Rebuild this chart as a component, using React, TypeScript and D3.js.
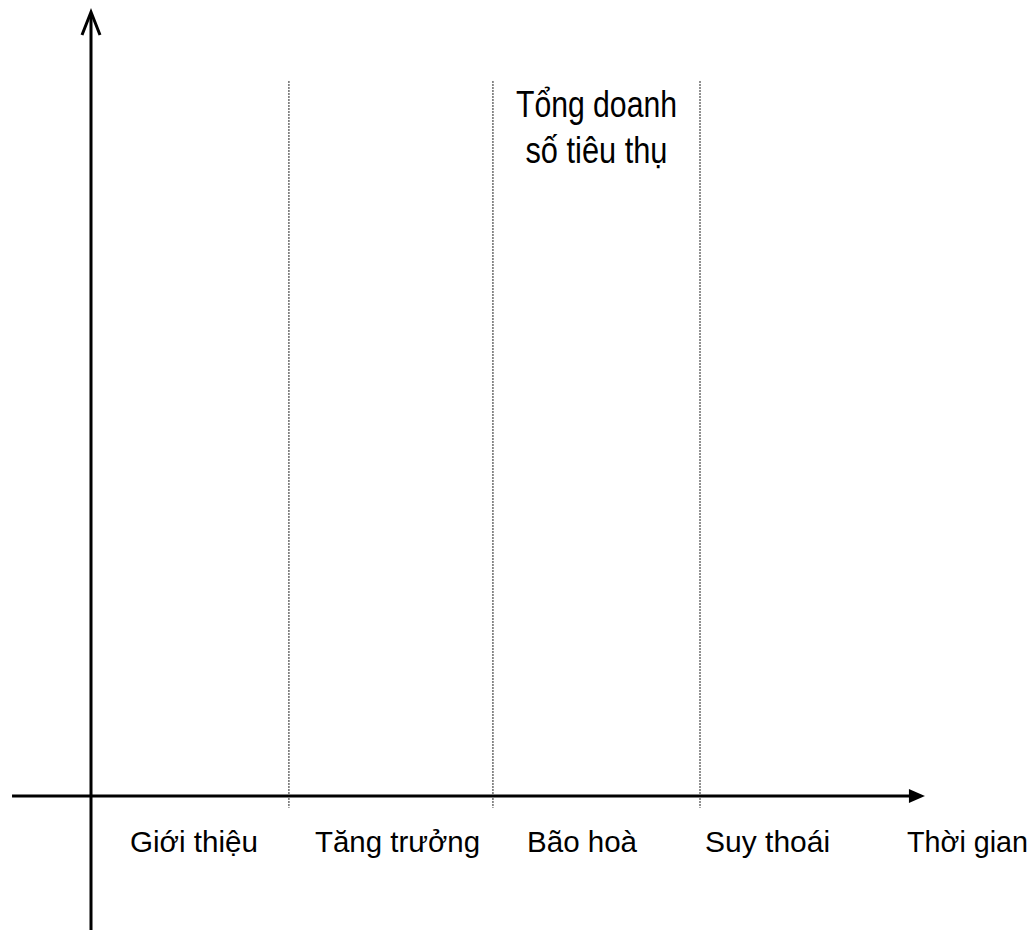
import React from "react";
import * as d3 from "d3";

// Stage labels along the time axis
const stages = ["Giới thiệu", "Tăng trưởng", "Bão hoà", "Suy thoái"];
const stagePos = [0.507, 1.51, 2.419, 3.333];
const stageLengths = [128, 165, 110, 125];
const xAxisLabel = "Thời gian";
const xAxisLabelPos = 4.318;
const xAxisLabelLength = 121;
// Stage boundaries (time units)
const boundaries = [0.975, 1.98, 3.0];
// Annotation
const noteLines = ["Tổng doanh", "số tiêu thụ"];
const notePos = 2.49;
const noteLevels = [0.866, 0.807];
const noteLengths = [161, 142];

const W = 1034;
const H = 936;

export default function App() {
  const x = d3.scaleLinear().domain([0, 3]).range([91, 700]);
  const y = d3.scaleLinear().domain([0, 1]).range([796, 12]);

  const xMin = x(-0.389);
  const xMax = x(4.108);
  const yTop = y(1);
  const yBottom = y(-0.171);
  const y0 = y(0);
  const x0 = x(0);

  const font = "'Liberation Sans', Arial, Helvetica, sans-serif";

  const labels = [
    ...stages.map((s, i) => ({ text: s, pos: stagePos[i], len: stageLengths[i] })),
    { text: xAxisLabel, pos: xAxisLabelPos, len: xAxisLabelLength },
  ];

  return (
    <div style={{ position: "absolute", left: 0, top: 0 }}>
      <svg width={W} height={H} style={{ display: "block", background: "#fff" }}>
        <rect width={W} height={H} fill="#fff" />
        {/* dotted stage boundaries */}
        {boundaries.map((b, i) => (
          <line
            key={i}
            x1={x(b)}
            x2={x(b)}
            y1={y(0.912)}
            y2={y(-0.015)}
            stroke="#222"
            strokeWidth={1}
            strokeDasharray="2,1"
          />
        ))}
        {/* x axis */}
        <line x1={xMin} x2={xMax - 12} y1={y0} y2={y0} stroke="#000" strokeWidth={3} />
        <path
          d={`M${xMax},${y0} L${xMax - 16},${y0 - 7} L${xMax - 16},${y0 + 7} Z`}
          fill="#000"
        />
        {/* y axis */}
        <line x1={x0} x2={x0} y1={yTop + 1} y2={yBottom} stroke="#000" strokeWidth={3} />
        <path
          d={`M${x0 - 9},${yTop + 23} L${x0},${yTop} L${x0 + 9},${yTop + 23}`}
          fill="none"
          stroke="#000"
          strokeWidth={3}
        />
        {/* stage labels + axis label */}
        {labels.map((l) => (
          <text
            key={l.text}
            x={x(l.pos) - l.len / 2}
            y={y(-0.071)}
            fontFamily={font}
            fontSize={30}
            textLength={l.len}
            lengthAdjust="spacingAndGlyphs"
            fill="#000"
          >
            {l.text}
          </text>
        ))}
        {/* annotation */}
        {noteLines.map((t, i) => (
          <text
            key={t}
            x={x(notePos) - noteLengths[i] / 2}
            y={y(noteLevels[i])}
            fontFamily={font}
            fontSize={36}
            textLength={noteLengths[i]}
            lengthAdjust="spacingAndGlyphs"
            fill="#000"
          >
            {t}
          </text>
        ))}
      </svg>
    </div>
  );
}
